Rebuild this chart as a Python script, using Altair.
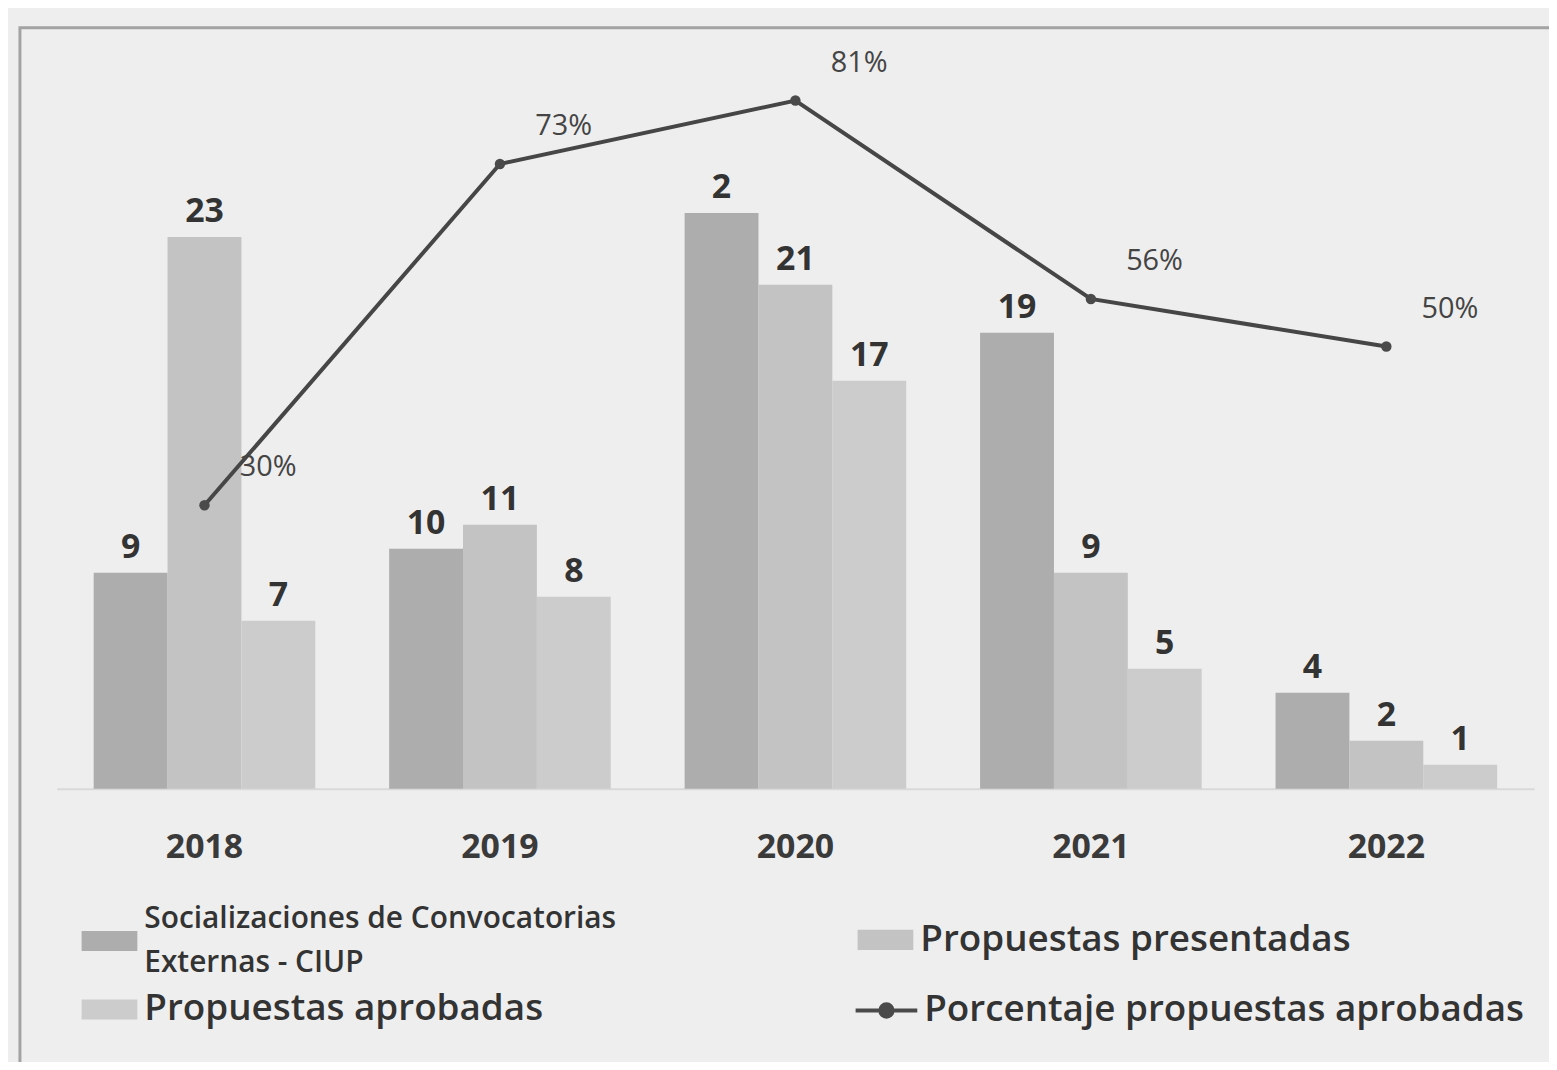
import altair as alt
import pandas as pd

years = ["2018", "2019", "2020", "2021", "2022"]
S1 = "Socializaciones de Convocatorias Externas - CIUP"
S2 = "Propuestas presentadas"
S3 = "Propuestas aprobadas"
LN = "Porcentaje propuestas aprobadas"
series = [S1, S2, S3]

socializaciones = [9, 10, 24, 19, 4]
socializaciones_labels = ["9", "10", "2", "19", "4"]
presentadas = [23, 11, 21, 9, 2]
aprobadas = [7, 8, 17, 5, 1]
porcentaje = [30, 73, 81, 56, 50]
porcentaje_labels = ["30%", "73%", "81%", "56%", "50%"]

colors = {S1: "#adadad", S2: "#c3c3c3", S3: "#cccccc"}

rows = []
for i, y in enumerate(years):
    rows.append({"year": y, "series": S1, "value": socializaciones[i], "label": socializaciones_labels[i]})
    rows.append({"year": y, "series": S2, "value": presentadas[i], "label": str(presentadas[i])})
    rows.append({"year": y, "series": S3, "value": aprobadas[i], "label": str(aprobadas[i])})
bars_df = pd.DataFrame(rows)
line_df = pd.DataFrame({"year": years, "pct": porcentaje, "label": porcentaje_labels, "name": [LN] * 5})

FONT = "Open Sans"
xenc = alt.X("year:N", sort=years,
             scale=alt.Scale(paddingInner=0.25, paddingOuter=0.125),
             axis=alt.Axis(title=None, labelAngle=0, ticks=False, domainColor="#d9d9d9",
                           domainWidth=2, labelFont=FONT, labelFontSize=34, labelFontWeight="bold",
                           labelColor="#3a3a3a", labelPadding=42, grid=False))
xoff = alt.XOffset("series:N", sort=series, scale=alt.Scale(paddingInner=0, paddingOuter=0))
ybar = alt.Y("value:Q", scale=alt.Scale(domain=[0, 31.1]), axis=None)

rect_path = "M-1,-0.36H1V0.36H-1Z"
rect_path_low = "M-1,0.43H1V1.15H-1Z"
legend_pos = {S1: (25, 853, 30), S2: (805, 874, 37), S3: (25, 944, 37)}

frame = alt.Chart(pd.DataFrame({"f": [1]})).mark_rect(filled=False, stroke="#a3a3a3", strokeWidth=3).encode(
    x=alt.value(-37), x2=alt.value(1540), y=alt.value(-15), y2=alt.value(1100))

layers = [frame]
for s in series:
    lx, ly, fs = legend_pos[s]
    lg = dict(title=None, orient="none", legendX=lx, legendY=ly, symbolType=rect_path, symbolSize=3136,
              symbolStrokeWidth=0, symbolOpacity=1, labelFont=FONT, labelFontSize=fs, labelFontWeight=600,
              labelColor="#333333", labelOffset=7, padding=0, labelLimit=800)
    if s == S1:
        lg["labelExpr"] = "['Socializaciones de Convocatorias', 'Externas - CIUP']"
        lg["symbolType"] = rect_path_low
    layers.append(
        alt.Chart(bars_df).transform_filter(alt.datum.series == s).mark_bar(opacity=1).encode(
            x=xenc, xOffset=xoff, y=ybar,
            color=alt.Color("series:N", scale=alt.Scale(domain=[s], range=[colors[s]]), legend=alt.Legend(**lg)))
    )

bar_text = alt.Chart(bars_df).mark_text(font=FONT, fontSize=34, fontWeight="bold", color="#333333",
                                        baseline="bottom", dy=-8).encode(
    x=xenc, xOffset=xoff, y=ybar, text="label:N")
layers.append(bar_text)

ypct = alt.Y("pct:Q", scale=alt.Scale(domain=[-5.7, 88.3]), axis=None)
line = alt.Chart(line_df).mark_line(color="#464646", strokeWidth=4).encode(x=xenc, y=ypct)
line_path = "M-1,0H-0.2M0.2,0H1M-0.2,0A0.2,0.2 0 1 1 0.2,0A0.2,0.2 0 1 1 -0.2,0Z"
pts = alt.Chart(line_df).mark_point(filled=True, size=110, opacity=1).encode(
    x=xenc, y=ypct,
    color=alt.Color("name:N", scale=alt.Scale(domain=[LN], range=["#4a4a4a"]),
                    legend=alt.Legend(title=None, orient="none", legendX=801, legendY=940, symbolType=line_path,
                                      symbolSize=3844, symbolStrokeColor="#4a4a4a", symbolStrokeWidth=4,
                                      symbolFillColor="#4a4a4a", symbolOpacity=1, labelFont=FONT,
                                      labelFontSize=37, labelFontWeight=600, labelColor="#333333",
                                      labelOffset=5, padding=0, labelLimit=800)))
pct_text = alt.Chart(line_df).mark_text(font=FONT, fontSize=29, color="#444444", dx=64, dy=-38).encode(
    x=xenc, y=ypct, text="label:N")
layers += [line, pts, pct_text]

chart = alt.layer(*layers).resolve_scale(y="independent", color="independent").properties(
    width=1485, height=750,
    padding={"left": 49, "top": 32, "right": 15, "bottom": 272},
    autosize=alt.AutoSizeParams(type="none"),
    background="#eeeeee",
).configure(
    view=alt.ViewConfig(strokeWidth=0),
    style={"guide-label": {"lineHeight": 44}},
)

chart.save("out.html", embed_options={"renderer": "svg", "actions": False})
